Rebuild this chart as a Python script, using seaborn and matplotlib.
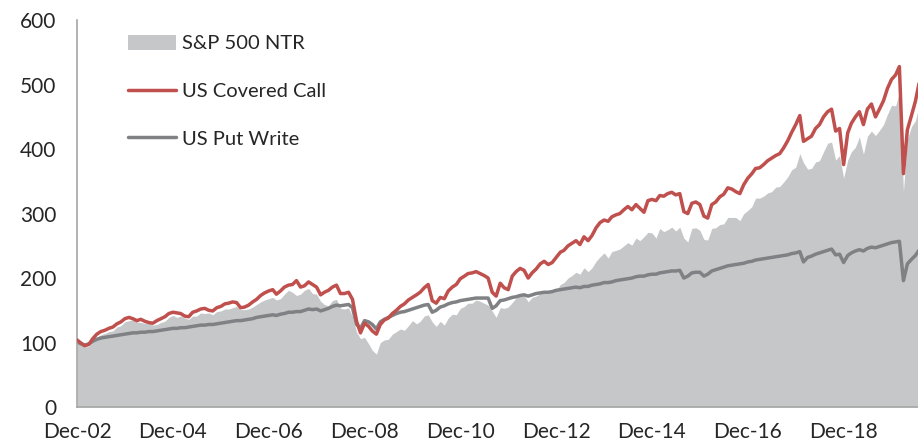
import matplotlib
matplotlib.use("Agg")
import matplotlib.pyplot as plt
import seaborn as sns
import pandas as pd

# Monthly values, Dec-2002 .. Jul-2020
covered_call = [
    104,
    99, 95, 97, 106, 113, 117, 119, 122, 124, 129, 132, 137,
    139, 137, 134, 136, 133, 131, 130, 134, 137, 140, 145, 147,
    146, 145, 141, 140, 147, 149, 152, 153, 150, 149, 154, 156,
    160, 161, 163, 162, 154, 155, 158, 163, 167, 173, 177, 180,
    182, 175, 180, 186, 189, 190, 196, 186, 188, 194, 190, 186,
    174, 178, 181, 186, 189, 176, 176, 178, 167, 133, 115, 130,
    125, 118, 113, 128, 135, 138, 145, 150, 156, 160, 166, 170,
    174, 178, 185, 190, 165, 161, 170, 168, 180, 186, 190, 199,
    203, 207, 208, 210, 207, 204, 200, 178, 172, 192, 185, 182,
    203, 210, 215, 212, 200, 208, 214, 222, 226, 221, 224, 232,
    240, 243, 250, 254, 258, 252, 264, 258, 266, 278, 286, 290,
    288, 295, 298, 300, 306, 311, 306, 314, 308, 302, 320, 322,
    320, 328, 327, 331, 333, 329, 331, 303, 300, 316, 318, 314,
    296, 293, 314, 318, 326, 330, 340, 338, 334, 331, 345, 355,
    362, 370, 371, 376, 382, 386, 390, 393, 402, 413, 426, 438,
    452, 412, 416, 420, 432, 438, 450, 458, 462, 428, 432, 376,
    425, 440, 450, 458, 438, 462, 470, 450, 462, 475, 494, 508,
    515, 528, 362, 430, 452, 474, 505,
]

sp500_ntr = [
    103,
    98, 93, 94, 102, 108, 112, 114, 117, 118, 124, 126, 132,
    134, 135, 132, 131, 130, 131, 127, 128, 131, 133, 139, 142,
    139, 141, 138, 136, 141, 141, 146, 145, 146, 143, 148, 149,
    152, 152, 154, 156, 151, 151, 152, 155, 159, 163, 166, 168,
    170, 166, 168, 175, 181, 178, 173, 175, 181, 184, 176, 175,
    164, 159, 157, 165, 167, 153, 152, 154, 140, 116, 106, 108,
    98, 88, 82, 100, 104, 105, 113, 117, 121, 119, 126, 134,
    129, 133, 141, 143, 132, 125, 133, 127, 138, 144, 143, 153,
    156, 161, 161, 166, 164, 161, 158, 149, 139, 154, 153, 155,
    162, 169, 174, 173, 163, 170, 172, 176, 180, 177, 178, 180,
    190, 193, 200, 204, 209, 206, 216, 210, 216, 226, 233, 239,
    231, 241, 243, 245, 250, 255, 251, 262, 258, 264, 271, 270,
    262, 277, 272, 275, 279, 273, 279, 262, 256, 277, 278, 274,
    260, 259, 277, 278, 283, 284, 294, 294, 294, 289, 300, 305,
    311, 324, 324, 327, 332, 334, 341, 342, 349, 357, 368, 372,
    393, 379, 369, 370, 380, 382, 396, 409, 411, 383, 390, 355,
    383, 396, 403, 419, 392, 420, 428, 421, 429, 438, 454, 468,
    467, 488, 335, 415, 435, 444, 470,
]

put_write = [
    101,
    98, 96, 98, 102, 105, 107, 108, 109, 110, 111, 112, 113,
    114, 115, 115, 116, 116, 117, 117, 118, 119, 120, 121, 122,
    122, 123, 123, 124, 125, 126, 127, 127, 128, 128, 129, 130,
    131, 132, 133, 134, 134, 135, 136, 137, 139, 140, 141, 142,
    143, 142, 144, 145, 147, 147, 148, 148, 150, 152, 151, 152,
    149, 151, 153, 156, 158, 157, 158, 159, 154, 128, 122, 134,
    132, 128, 121, 132, 136, 139, 142, 145, 147, 148, 150, 152,
    154, 156, 158, 159, 147, 150, 155, 157, 160, 162, 163, 165,
    166, 167, 168, 169, 169, 169, 169, 153, 157, 165, 166, 168,
    170, 171, 173, 174, 172, 174, 176, 177, 178, 178, 179, 181,
    182, 183, 184, 185, 186, 185, 187, 187, 189, 190, 191, 193,
    193, 194, 196, 197, 198, 199, 200, 202, 203, 203, 205, 206,
    206, 208, 209, 210, 211, 211, 212, 200, 203, 208, 209, 209,
    203, 206, 211, 213, 215, 217, 219, 220, 221, 222, 223, 225,
    226, 228, 229, 230, 231, 232, 233, 234, 235, 236, 238, 239,
    241, 225, 232, 234, 237, 239, 241, 243, 245, 236, 237, 224,
    235, 239, 242, 244, 242, 246, 248, 247, 249, 251, 253, 255,
    256, 257, 196, 222, 229, 235, 244,
]

tick_labels = ["Dec-02", "Dec-04", "Dec-06", "Dec-08", "Dec-10",
               "Dec-12", "Dec-14", "Dec-16", "Dec-18"]
y_ticks = [0, 100, 200, 300, 400, 500, 600]

dates = pd.date_range("2002-12-31", periods=len(covered_call), freq="ME")
df = pd.DataFrame({"date": dates, "cc": covered_call,
                   "sp": sp500_ntr, "pw": put_write})

sns.set_theme(style="white")
plt.rcParams["font.family"] = ["Lato", "DejaVu Sans"]

fig = plt.figure(figsize=(9.18, 4.48), dpi=100)
ax = fig.add_axes([0.0839, 0.0915, 0.9161, 0.8635])

AREA = "#C6C7C9"
RED = "#C0504D"
GRAY = "#808184"
TEXT = "#262626"
AXIS = "#A6A6A6"

ax.fill_between(df["date"], 0, df["sp"], color=AREA, linewidth=0,
                label="S&P 500 NTR", zorder=1)
sns.lineplot(data=df, x="date", y="cc", ax=ax, color=RED, linewidth=2.5,
             label="US Covered Call", zorder=3)
sns.lineplot(data=df, x="date", y="pw", ax=ax, color=GRAY, linewidth=2.5,
             label="US Put Write", zorder=2)

ax.set_xlim(pd.Timestamp("2002-12-31"), pd.Timestamp("2020-07-20"))
ax.set_ylim(0, 600)
ax.set_yticks(y_ticks)
tick_dates = [pd.Timestamp(f"{2002 + 2 * i}-12-31") for i in range(len(tick_labels))]
ax.set_xticks(tick_dates)
ax.set_xticklabels(tick_labels)
ax.set_xlabel("")
ax.set_ylabel("")

for side in ["top", "right"]:
    ax.spines[side].set_visible(False)
for side in ["left", "bottom"]:
    ax.spines[side].set_color(AXIS)
    ax.spines[side].set_linewidth(1.2)

ax.tick_params(axis="both", which="major", labelsize=15, labelcolor=TEXT,
               color=AXIS, direction="out", length=6, width=1.2)
ax.tick_params(axis="x", pad=5)
ax.tick_params(axis="y", pad=9)
ax.grid(False)

handles, labels = ax.get_legend_handles_labels()
order = [labels.index(l) for l in ["S&P 500 NTR", "US Covered Call", "US Put Write"]]
leg = ax.legend([handles[i] for i in order], [labels[i] for i in order],
                loc="upper left", bbox_to_anchor=(0.046, 0.993), frameon=False,
                fontsize=14.5, labelspacing=1.5, handlelength=2.4,
                handleheight=0.75, handletextpad=0.27, borderaxespad=0.2)
for t in leg.get_texts():
    t.set_color(TEXT)

fig.savefig("out.png", dpi=100)
